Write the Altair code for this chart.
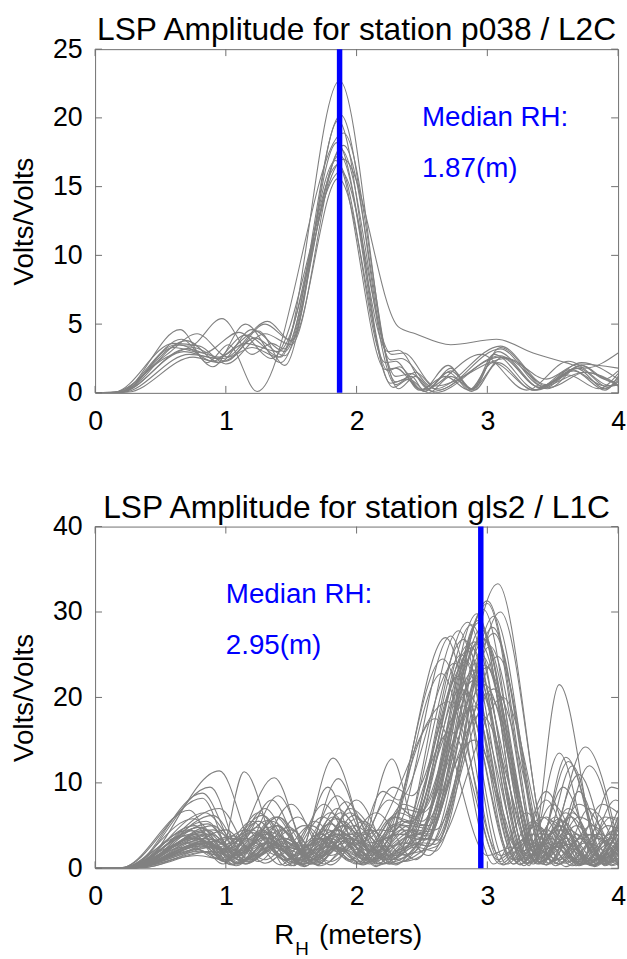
import altair as alt
import pandas as pd

FONT = "Liberation Sans"
X_TICKS = [0, 1, 2, 3, 4]
TOP_Y_TICKS = [0, 5, 10, 15, 20, 25]
BOT_Y_TICKS = [0, 10, 20, 30, 40]
TOP_TITLE = "LSP Amplitude for station p038 / L2C"
BOT_TITLE = "LSP Amplitude for station gls2 / L1C"
TOP_MEDIAN = 1.87
BOT_MEDIAN = 2.95
TOP_NOTE = ["Median RH:", "1.87(m)"]
BOT_NOTE = ["Median RH:", "2.95(m)"]
TOP_NOTE_XY = [(2.5, 20.0), (2.5, 16.25)]
BOT_NOTE_XY = [(1.0, 32.0), (1.0, 26.0)]

# station p038 / L2C : (RH, amplitude) key points of each periodogram
TOP_CURVES = [
    [(0, 0), (0.2, 0.1), (0.65, 3.5), (0.9, 2.3), (1.15, 4.2), (1.42, 2.6), (1.87, 22.7), (2.3, 0.8), (2.42, 1.2), (2.52, 0.1), (2.7, 1.5), (2.88, 0.1), (3.08, 3.0), (3.42, 0.3), (3.7, 1.8), (3.92, 0.4), (4, 0.8)],
    [(0, 0), (0.2, 0.05), (0.7, 3.8), (0.95, 2.2), (1.2, 4.6), (1.45, 3.0), (1.88, 20.2), (2.26, 2.4), (2.34, 2.5), (2.6, 0.3), (3.1, 3.4), (3.45, 0.6), (3.72, 2.0), (3.95, 0.8), (4, 1.0)],
    [(0, 0), (0.15, 0.05), (0.55, 2.8), (0.78, 4.3), (1.02, 2.6), (1.3, 5.0), (1.5, 3.8), (1.86, 19.8), (2.24, 1.6), (2.33, 1.9), (2.5, 0.2), (2.7, 2.0), (2.88, 0.2), (3.05, 2.8), (3.38, 0.2), (3.66, 1.6), (3.9, 0.2), (4, 1.2)],
    [(0, 0), (0.2, 0.1), (0.65, 4.6), (0.86, 2.2), (1.02, 3.5), (1.24, 0.1), (1.9, 18.9), (2.32, 0.3), (2.45, 1.2), (2.6, 0.0), (3.1, 2.7), (3.4, 0.4), (3.72, 2.2), (4, 1.0)],
    [(0, 0), (0.2, 0.05), (0.68, 3.0), (0.92, 2.5), (1.25, 4.5), (1.45, 2.0), (1.85, 18.2), (2.24, 3.0), (2.32, 3.1), (2.55, 0.3), (2.72, 1.8), (2.88, 0.3), (3.12, 2.6), (3.48, 0.4), (3.75, 1.5), (4, 0.6)],
    [(0, 0), (0.15, 0.05), (0.6, 3.6), (0.8, 3.4), (1.0, 2.1), (1.3, 4.3), (1.5, 3.5), (1.88, 17.7), (2.3, 0.6), (2.45, 1.5), (2.62, 0.2), (3.1, 3.2), (3.42, 0.5), (3.68, 1.8), (3.9, 0.3), (4, 0.9)],
    [(0, 0), (0.2, 0.05), (0.7, 3.2), (0.95, 2.6), (1.15, 3.6), (1.4, 3.0), (1.9, 17.0), (2.32, 4.8), (2.45, 4.3), (2.72, 3.5), (3.07, 3.9), (3.35, 2.9), (3.6, 2.2), (3.75, 1.8), (4, 2.9)],
    [(0, 0), (0.25, 0.05), (0.75, 2.6), (0.95, 2.2), (1.2, 3.3), (1.4, 2.6), (1.86, 16.6), (2.22, 2.2), (2.3, 2.3), (2.48, 0.2), (2.68, 1.2), (2.86, 0.2), (3.04, 2.2), (3.36, 0.2), (3.64, 1.7), (3.9, 0.5), (4, 0.6)],
    [(0, 0), (0.2, 0.05), (0.6, 3.3), (0.83, 2.9), (1.1, 4.4), (1.35, 2.5), (1.88, 16.1), (2.27, 2.8), (2.36, 2.9), (2.6, 0.5), (3.15, 2.5), (3.45, 1.0), (3.7, 2.1), (4, 1.8)],
    [(0, 0), (0.22, 0.05), (0.72, 2.8), (0.98, 2.5), (1.32, 5.2), (1.5, 3.8), (1.86, 15.6), (2.28, 0.4), (2.4, 1.0), (2.55, 0.0), (2.72, 1.2), (2.9, 0.2), (3.08, 2.2), (3.35, 0.2), (3.62, 1.3), (3.85, 0.3), (4, 1.4)],
    [(0, 0), (0.18, 0.05), (0.62, 3.5), (0.72, 3.4), (0.97, 5.4), (1.2, 2.8), (1.35, 3.6), (1.45, 3.2), (1.84, 16.9), (2.22, 1.7), (2.3, 1.8), (2.5, 0.2), (2.95, 2.8), (3.3, 0.2), (3.62, 2.3), (3.95, 0.5), (4, 0.6)],
    [(0, 0), (0.2, 0.05), (0.66, 3.9), (0.9, 1.9), (1.15, 5.0), (1.42, 2.2), (1.9, 18.0), (2.3, 1.2), (2.42, 1.4), (2.58, 0.1), (3.1, 2.6), (3.4, 0.4), (3.74, 1.5), (4, 0.5)],
    [(0, 0), (0.15, 0.05), (0.55, 2.6), (0.75, 3.3), (1.0, 2.3), (1.22, 4.0), (1.45, 2.7), (1.87, 17.3), (2.26, 0.7), (2.38, 1.0), (2.52, 0.1), (2.72, 1.6), (2.88, 0.3), (3.1, 3.3), (3.46, 0.3), (3.72, 2.0), (3.9, 1.0), (4, 1.6)],
]

# station gls2 / L1C : (RH, amplitude) key points of each periodogram
BOT_CURVES = [
    [(0, 0), (0.25, 0.05), (0.8, 3.5), (1.0, 1.0), (1.3, 4.2), (1.6, 0.5), (1.9, 5.0), (2.2, 1.2), (2.45, 3.0), (2.55, 2.6), (3.08, 33.3), (3.5, 0.5), (3.75, 4.0), (4, 1.5)],
    [(0, 0), (0.3, 0.05), (0.85, 4.5), (1.1, 1.5), (1.4, 6.0), (1.7, 0.8), (2.0, 4.2), (2.25, 0.5), (2.5, 2.0), (3.0, 31.3), (3.42, 0.8), (3.65, 6.5), (3.9, 0.5), (4, 1.5)],
    [(0, 0), (0.22, 0.05), (0.75, 5.8), (1.02, 2.0), (1.25, 4.0), (1.5, 0.3), (1.8, 6.5), (2.1, 1.0), (2.35, 5.0), (2.5, 4.0), (2.97, 30.3), (3.35, 2.0), (3.55, 5.0), (3.8, 0.3), (4, 4.5)],
    [(0, 0), (0.25, 0.05), (0.9, 2.5), (1.15, 0.8), (1.45, 3.5), (1.7, 1.0), (1.95, 7.0), (2.3, 1.5), (2.78, 27.8), (3.2, 0.5), (3.45, 4.5), (3.7, 1.0), (3.95, 6.0), (4, 5.8)],
    [(0, 0), (0.2, 0.05), (0.7, 3.0), (0.92, 1.2), (1.2, 5.5), (1.45, 1.0), (1.72, 4.0), (2.0, 0.5), (2.28, 6.0), (2.42, 5.2), (2.88, 28.5), (3.3, 1.0), (3.52, 6.0), (3.78, 0.4), (4, 3.0)],
    [(0, 0), (0.3, 0.05), (0.8, 4.0), (1.05, 0.5), (1.35, 3.0), (1.6, 0.2), (1.85, 4.5), (2.1, 2.0), (2.2, 2.2), (2.68, 27.0), (3.1, 0.8), (3.35, 5.5), (3.6, 0.2), (3.85, 4.0), (4, 2.5)],
    [(0, 0), (0.25, 0.05), (0.82, 8.8), (1.1, 2.0), (1.38, 6.0), (1.62, 1.5), (1.9, 5.0), (2.15, 0.2), (2.66, 24.5), (3.08, 1.0), (3.3, 3.5), (3.55, 0.5), (3.78, 7.0), (4, 2.0)],
    [(0, 0), (0.3, 0.05), (0.95, 11.4), (1.25, 1.5), (1.5, 4.5), (1.75, 0.5), (2.05, 5.5), (2.35, 0.8), (2.5, 1.5), (2.93, 29.0), (3.32, 0.3), (3.55, 21.5), (3.88, 0.5), (4, 2.0)],
    [(0, 0), (0.28, 0.05), (0.78, 2.2), (1.0, 0.8), (1.3, 3.0), (1.55, 1.5), (1.82, 12.9), (2.15, 0.5), (2.45, 4.0), (2.55, 3.8), (2.95, 25.0), (3.38, 1.5), (3.6, 13.0), (3.92, 0.8), (4, 1.0)],
    [(0, 0), (0.3, 0.05), (0.8, 2.0), (0.95, 1.5), (1.14, 11.3), (1.45, 0.3), (1.7, 3.5), (1.95, 1.0), (2.25, 8.0), (2.45, 6.0), (2.9, 22.0), (3.35, 0.5), (3.62, 12.5), (3.9, 0.3), (4, 1.2)],
    [(0, 0), (0.22, 0.05), (0.72, 4.5), (0.98, 0.5), (1.37, 10.6), (1.65, 1.0), (1.92, 3.0), (2.2, 0.5), (2.5, 3.5), (2.6, 3.3), (3.02, 26.0), (3.42, 0.5), (3.75, 14.2), (4, 3.0)],
    [(0, 0), (0.25, 0.05), (0.75, 3.5), (1.0, 2.0), (1.25, 6.5), (1.55, 0.5), (1.85, 8.5), (2.15, 1.5), (2.35, 3.0), (2.45, 2.8), (2.85, 20.5), (3.25, 1.0), (3.48, 3.0), (3.7, 0.5), (3.95, 9.5), (4, 9.3)],
    [(0, 0), (0.3, 0.05), (0.9, 5.0), (1.15, 1.0), (1.4, 3.8), (1.6, 0.3), (1.85, 2.5), (2.1, 0.8), (2.35, 7.0), (2.5, 6.5), (3.0, 23.5), (3.4, 1.0), (3.65, 12.0), (3.9, 0.5), (4, 3.5)],
    [(0, 0), (0.25, 0.05), (0.85, 3.0), (1.1, 0.5), (1.35, 5.5), (1.6, 2.5), (1.85, 4.0), (2.1, 1.5), (2.4, 5.5), (2.55, 5.0), (3.05, 27.5), (3.45, 0.4), (3.68, 5.0), (3.92, 0.6), (4, 1.2)],
    [(0, 0), (0.35, 0.05), (0.92, 2.5), (1.2, 1.2), (1.5, 7.5), (1.8, 0.4), (2.05, 4.0), (2.3, 1.2), (2.82, 19.0), (3.25, 2.0), (3.45, 3.0), (3.65, 0.3), (3.9, 6.0), (4, 5.5)],
    [(0, 0), (0.2, 0.05), (0.68, 3.8), (0.9, 2.5), (1.15, 4.5), (1.42, 0.4), (1.68, 5.5), (1.95, 0.8), (2.2, 9.0), (2.32, 8.0), (2.75, 24.0), (3.15, 0.5), (3.42, 6.0), (3.7, 0.3), (3.95, 3.0), (4, 2.8)],
    [(0, 0), (0.28, 0.05), (0.82, 4.2), (1.08, 0.3), (1.3, 2.5), (1.55, 0.5), (1.82, 6.0), (2.1, 0.8), (2.4, 4.5), (2.55, 4.0), (2.95, 28.0), (3.38, 0.5), (3.6, 3.5), (3.82, 0.3), (4, 5.0)],
    [(0, 0), (0.3, 0.05), (0.78, 1.5), (1.0, 1.0), (1.28, 4.5), (1.52, 0.3), (1.78, 9.5), (2.05, 0.5), (2.3, 5.0), (2.55, 1.5), (3.05, 21.0), (3.5, 0.8), (3.78, 12.0), (4, 2.0)],
    [(0, 0), (0.3, 0.05), (0.85, 3.5), (1.1, 2.0), (1.38, 5.0), (1.65, 1.0), (1.95, 6.5), (2.25, 0.5), (2.72, 16.0), (3.1, 0.5), (3.3, 3.0), (3.55, 1.0), (3.8, 5.0), (4, 0.8)],
    [(0, 0), (0.25, 0.05), (0.95, 7.0), (1.22, 1.5), (1.45, 3.0), (1.7, 1.0), (2.0, 8.0), (2.3, 0.6), (2.45, 2.0), (2.9, 26.5), (3.3, 1.2), (3.55, 4.5), (3.75, 0.5), (4, 4.0)],
    [(0, 0), (0.3, 0.05), (0.72, 2.5), (1.0, 4.5), (1.25, 0.8), (1.55, 6.0), (1.8, 1.5), (2.05, 3.0), (2.3, 0.4), (2.5, 3.0), (2.6, 2.8), (3.05, 29.5), (3.45, 1.0), (3.7, 7.5), (4, 0.3)],
    [(0, 0), (0.25, 0.05), (0.88, 9.5), (1.15, 0.5), (1.42, 4.5), (1.7, 0.5), (1.98, 5.0), (2.25, 2.0), (2.38, 2.5), (2.85, 25.5), (3.25, 0.4), (3.5, 7.5), (3.78, 0.5), (4, 6.0)],
    [(0, 0), (0.3, 0.05), (0.8, 2.8), (1.05, 3.5), (1.3, 1.0), (1.6, 5.0), (1.85, 2.0), (2.15, 6.5), (2.45, 1.0), (2.95, 18.0), (3.4, 0.5), (3.62, 4.0), (3.85, 0.5), (4, 2.5)],
    [(0, 0), (0.22, 0.05), (0.75, 4.0), (0.98, 1.0), (1.22, 3.0), (1.5, 2.0), (1.75, 7.5), (2.02, 1.5), (2.3, 4.0), (2.38, 3.9), (2.78, 22.5), (3.2, 0.5), (3.45, 9.0), (3.72, 0.5), (3.98, 4.5), (4, 4.4)],
    [(0, 0), (0.35, 0.05), (0.9, 2.0), (1.15, 0.5), (1.45, 3.5), (1.72, 0.3), (2.0, 3.0), (2.25, 1.5), (2.6, 2.5), (3.12, 20.0), (3.52, 0.3), (3.75, 3.0), (4, 0.5)],
    [(0, 0), (0.25, 0.05), (0.85, 5.5), (1.12, 0.8), (1.4, 5.0), (1.65, 0.5), (1.95, 4.0), (2.2, 0.6), (2.45, 2.5), (2.6, 2.0), (3.1, 30.0), (3.5, 0.8), (3.72, 3.5), (3.95, 0.4), (4, 0.8)],
    [(0, 0), (0.3, 0.05), (0.82, 3.0), (1.05, 1.5), (1.32, 3.5), (1.58, 0.5), (1.85, 2.5), (2.12, 1.0), (2.6, 17.5), (3.0, 1.5), (3.2, 2.5), (3.45, 0.4), (3.7, 6.0), (4, 0.5)],
    [(0, 0), (0.28, 0.05), (0.78, 3.2), (1.0, 2.2), (1.25, 5.5), (1.5, 0.8), (1.78, 3.0), (2.0, 1.5), (2.27, 12.8), (2.5, 2.0), (2.92, 23.0), (3.35, 1.5), (3.58, 5.5), (3.82, 0.2), (4, 3.5)],
    [(0, 0), (0.25, 0.05), (0.9, 4.5), (1.15, 2.5), (1.4, 6.0), (1.65, 0.5), (1.9, 5.5), (2.15, 0.3), (2.35, 3.0), (2.82, 26.8), (3.22, 0.8), (3.45, 4.0), (3.68, 0.3), (3.92, 5.0), (4, 4.7)],
    [(0, 0), (0.3, 0.05), (0.8, 4.8), (1.05, 1.2), (1.3, 4.0), (1.55, 2.2), (1.85, 4.5), (2.1, 2.0), (2.35, 5.5), (2.5, 5.0), (2.98, 21.5), (3.38, 1.5), (3.6, 6.5), (3.85, 1.0), (4, 2.0)],
    [(0, 0), (0.2, 0.05), (0.82, 8.2), (1.08, 0.5), (1.32, 3.0), (1.58, 0.6), (1.88, 6.5), (2.15, 1.2), (2.38, 3.0), (2.85, 28.8), (3.28, 0.3), (3.5, 5.5), (3.75, 0.8), (4, 2.5)],
    [(0, 0), (0.3, 0.05), (0.88, 2.0), (1.12, 1.0), (1.38, 2.8), (1.62, 1.5), (1.9, 3.5), (2.05, 3.2), (2.7, 19.5), (3.1, 1.5), (3.35, 4.0), (3.6, 0.6), (3.85, 3.5), (4, 2.0)],
    [(0, 0), (0.28, 0.05), (0.75, 3.5), (0.95, 2.5), (1.2, 4.5), (1.45, 1.0), (1.75, 3.5), (2.02, 0.8), (2.32, 6.5), (2.5, 5.5), (3.0, 31.0), (3.4, 1.2), (3.62, 4.5), (3.88, 1.2), (4, 2.2)],
    [(0, 0), (0.32, 0.05), (0.86, 3.0), (1.1, 0.6), (1.35, 2.5), (1.6, 0.8), (1.9, 3.2), (2.18, 0.5), (2.45, 2.0), (2.9, 15.0), (3.3, 0.5), (3.55, 13.5), (3.82, 1.0), (4, 6.0)],
    [(0, 0), (0.25, 0.05), (0.8, 3.8), (1.02, 1.8), (1.3, 7.0), (1.58, 0.4), (1.85, 4.0), (2.1, 0.5), (2.4, 5.0), (2.6, 4.5), (3.08, 24.8), (3.48, 0.5), (3.7, 9.0), (3.95, 0.3), (4, 0.5)],
    [(0, 0), (0.22, 0.05), (0.7, 2.5), (0.9, 1.8), (1.15, 3.5), (1.4, 1.5), (1.65, 5.0), (1.9, 2.0), (2.18, 4.5), (2.28, 4.3), (2.72, 27.2), (3.12, 0.4), (3.38, 5.0), (3.62, 0.8), (3.88, 7.5), (4, 6.5)],
    [(0, 0), (0.3, 0.05), (0.88, 4.0), (1.12, 1.8), (1.35, 3.2), (1.6, 1.0), (1.85, 7.0), (2.12, 2.5), (2.4, 3.0), (2.88, 25.8), (3.3, 0.6), (3.55, 3.0), (3.8, 0.8), (4, 4.0)],
    [(0, 0), (0.26, 0.05), (0.84, 6.5), (1.1, 2.8), (1.35, 8.0), (1.62, 1.2), (1.9, 4.0), (2.15, 1.8), (2.45, 4.5), (2.55, 4.3), (2.98, 23.8), (3.4, 0.8), (3.62, 2.8), (3.85, 0.5), (4, 5.5)],
    [(0, 0), (0.3, 0.05), (0.8, 2.8), (1.05, 0.4), (1.32, 4.8), (1.58, 2.0), (1.8, 3.5), (2.05, 0.4), (2.35, 4.5), (2.48, 4.0), (2.92, 29.8), (3.32, 0.5), (3.55, 5.0), (3.82, 0.4), (4, 2.8)],
    [(0, 0), (0.24, 0.05), (0.76, 5.0), (1.0, 0.8), (1.25, 5.5), (1.5, 1.5), (1.78, 4.5), (2.02, 0.6), (2.2, 1.5), (2.65, 22.8), (3.05, 0.5), (3.3, 6.5), (3.55, 0.5), (3.8, 4.0), (4, 1.5)],
    [(0, 0), (0.28, 0.05), (0.78, 3.6), (1.0, 1.2), (1.25, 3.8), (1.5, 0.6), (1.8, 5.2), (2.05, 1.5), (2.3, 6.0), (2.42, 5.5), (2.86, 26.2), (3.28, 0.8), (3.5, 4.2), (3.75, 0.5), (4, 3.2)],
    [(0, 0), (0.25, 0.05), (0.7, 2.0), (0.92, 3.2), (1.18, 0.8), (1.48, 4.8), (1.72, 1.2), (2.0, 5.8), (2.3, 1.0), (2.45, 2.5), (2.96, 27.0), (3.38, 0.6), (3.62, 7.0), (3.9, 0.8), (4, 2.5)],
    [(0, 0), (0.3, 0.05), (0.86, 5.2), (1.1, 1.0), (1.4, 8.5), (1.68, 0.6), (1.95, 3.5), (2.2, 1.5), (2.4, 2.5), (2.8, 21.0), (3.2, 1.0), (3.45, 8.0), (3.7, 0.4), (3.95, 3.5), (4, 3.4)],
    [(0, 0), (0.22, 0.05), (0.74, 3.0), (0.96, 2.2), (1.2, 4.2), (1.46, 0.9), (1.74, 6.0), (2.0, 2.2), (2.28, 9.5), (2.42, 8.5), (2.84, 24.2), (3.24, 0.5), (3.48, 3.5), (3.72, 0.6), (3.98, 8.0), (4, 7.9)],
    [(0, 0), (0.3, 0.05), (0.9, 6.2), (1.18, 1.0), (1.45, 3.2), (1.7, 0.4), (1.98, 6.2), (2.25, 1.0), (2.55, 3.5), (2.62, 3.3), (3.04, 28.2), (3.46, 0.6), (3.68, 4.0), (3.9, 0.4), (4, 1.8)],
    [(0, 0), (0.26, 0.05), (0.8, 2.4), (1.05, 3.8), (1.3, 0.6), (1.55, 3.0), (1.8, 0.8), (2.1, 4.5), (2.38, 1.5), (2.9, 19.0), (3.3, 0.6), (3.55, 5.8), (3.8, 0.3), (4, 4.8)],
    [(0, 0), (0.32, 0.05), (0.84, 3.2), (1.08, 1.6), (1.35, 4.2), (1.6, 2.0), (1.82, 2.5), (2.08, 0.6), (2.42, 3.8), (2.5, 3.6), (2.94, 26.5), (3.36, 1.0), (3.58, 3.0), (3.8, 1.0), (4, 5.2)],
    [(0, 0), (0.24, 0.05), (0.76, 4.4), (1.0, 2.8), (1.28, 6.2), (1.55, 0.8), (1.82, 3.8), (2.08, 1.0), (2.36, 7.5), (2.5, 6.8), (2.94, 28.8), (3.35, 1.0), (3.58, 9.5), (3.86, 0.6), (4, 3.0)],
    [(0, 0), (0.3, 0.05), (0.9, 3.4), (1.15, 0.6), (1.42, 2.6), (1.66, 1.8), (1.92, 7.8), (2.2, 1.0), (2.46, 2.8), (2.55, 2.6), (3.0, 20.5), (3.42, 1.2), (3.7, 11.0), (3.98, 0.6), (4, 0.7)],
    [(0, 0), (0.2, 0.05), (0.72, 6.8), (0.98, 0.8), (1.24, 4.8), (1.5, 1.0), (1.78, 2.6), (2.02, 0.5), (2.3, 5.2), (2.4, 5.0), (2.8, 25.0), (3.22, 1.0), (3.45, 6.0), (3.7, 0.8), (3.95, 4.0), (4, 3.9)],
    [(0, 0), (0.28, 0.05), (0.82, 2.6), (1.06, 1.4), (1.3, 3.6), (1.56, 1.0), (1.84, 5.8), (2.1, 3.0), (2.35, 4.0), (2.45, 3.8), (2.9, 23.2), (3.3, 1.5), (3.52, 2.5), (3.72, 0.5), (4, 6.8)],
    [(0, 0), (0.26, 0.05), (0.8, 4.8), (1.04, 2.4), (1.32, 5.6), (1.58, 0.4), (1.86, 10.5), (2.14, 0.8), (2.4, 3.6), (2.52, 3.3), (2.98, 26.8), (3.4, 0.7), (3.64, 6.0), (3.9, 0.5), (4, 2.6)],
]

W = 528
FRAME = "#6f6f6f"
GRAY = "#808080"
BLUE = "#0000ff"
TICK_LEN = 7
LABEL_SIZE = 27
TEXT_SIZE = 28
TITLE_SIZE = 32


def to_frame(curves):
    rows = []
    for i, c in enumerate(curves):
        for k, (x, y) in enumerate(c):
            rows.append({"c": i, "k": k, "x": x, "y": y})
    return pd.DataFrame(rows)


def panel(curves, median, yticks, ymax, title, note, note_xy, height, xtitle=False):
    xs = alt.Scale(domain=[0, 4], nice=False, zero=False)
    ys = alt.Scale(domain=[0, ymax], nice=False)
    xaxis = alt.Axis(values=X_TICKS, title=None, grid=False, ticks=False, tickSize=0,
                     domain=False, labelFontSize=LABEL_SIZE, labelFont=FONT, labelColor="black",
                     labelPadding=16, labelFlush=False, labelOverlap=False, format="d")
    yaxis = alt.Axis(values=yticks, title="Volts/Volts", grid=False, ticks=False, tickSize=0,
                     domain=False, labelFontSize=LABEL_SIZE, labelFont=FONT, labelColor="black",
                     labelPadding=13, labelFlush=False, labelOverlap=False, format="d",
                     titleFontSize=TEXT_SIZE, titleFont=FONT, titleFontWeight="normal",
                     titleColor="black", titlePadding=14)

    lines = alt.Chart(to_frame(curves)).mark_line(
        color=GRAY, strokeWidth=1.1, interpolate="monotone", clip=True
    ).encode(
        x=alt.X("x:Q", scale=xs, axis=xaxis),
        y=alt.Y("y:Q", scale=ys, axis=yaxis),
        detail="c:N",
        order="k:Q",
    )

    rule = alt.Chart(pd.DataFrame({"x": [median]})).mark_rule(
        color=BLUE, strokeWidth=5.5
    ).encode(x=alt.X("x:Q", scale=xs))

    notes = alt.Chart(pd.DataFrame({
        "x": [p[0] for p in note_xy], "y": [p[1] for p in note_xy], "t": note
    })).mark_text(align="left", baseline="middle", color=BLUE, fontSize=TEXT_SIZE, font=FONT).encode(
        x=alt.X("x:Q", scale=xs), y=alt.Y("y:Q", scale=ys), text="t:N"
    )

    xt = pd.DataFrame({"x": X_TICKS})
    yt = pd.DataFrame({"y": yticks})
    tick_b = alt.Chart(xt).mark_rule(color=FRAME, strokeWidth=1).encode(
        x=alt.X("x:Q", scale=xs), y=alt.value(height), y2=alt.value(height - TICK_LEN))
    tick_t = alt.Chart(xt).mark_rule(color=FRAME, strokeWidth=1).encode(
        x=alt.X("x:Q", scale=xs), y=alt.value(0), y2=alt.value(TICK_LEN))
    tick_l = alt.Chart(yt).mark_rule(color=FRAME, strokeWidth=1).encode(
        y=alt.Y("y:Q", scale=ys), x=alt.value(0), x2=alt.value(TICK_LEN))
    tick_r = alt.Chart(yt).mark_rule(color=FRAME, strokeWidth=1).encode(
        y=alt.Y("y:Q", scale=ys), x=alt.value(W), x2=alt.value(W - TICK_LEN))

    layers = [lines, rule, notes, tick_b, tick_t, tick_l, tick_r]

    if xtitle:
        one = pd.DataFrame({"a": [0]})
        t_r = alt.Chart(one).mark_text(text="R", align="left", baseline="alphabetic",
                                       fontSize=TEXT_SIZE, font=FONT, color="black").encode(
            x=alt.value(181), y=alt.value(height + 76))
        t_h = alt.Chart(one).mark_text(text="H", align="left", baseline="alphabetic",
                                       fontSize=19, font=FONT, color="black").encode(
            x=alt.value(202), y=alt.value(height + 88))
        t_m = alt.Chart(one).mark_text(text="(meters)", align="left", baseline="alphabetic",
                                       fontSize=TEXT_SIZE, font=FONT, color="black").encode(
            x=alt.value(226), y=alt.value(height + 76))
        layers += [t_r, t_h, t_m]

    return alt.layer(*layers).properties(
        width=W, height=height,
        title=alt.Title(title, fontSize=TITLE_SIZE, font=FONT, fontWeight="normal",
                        color="black", anchor="middle", offset=-12),
    )


top = panel(TOP_CURVES, TOP_MEDIAN, TOP_Y_TICKS, 25, TOP_TITLE, TOP_NOTE, TOP_NOTE_XY, 347)
bot = panel(BOT_CURVES, BOT_MEDIAN, BOT_Y_TICKS, 40, BOT_TITLE, BOT_NOTE, BOT_NOTE_XY, 345, xtitle=True)

chart = alt.vconcat(top, bot, spacing=56).properties(
    padding={"left": 10, "top": 9, "right": 0, "bottom": 0}
).configure_view(stroke=FRAME, strokeWidth=1)

chart.save("out.html", embed_options={"renderer": "svg", "actions": False})
